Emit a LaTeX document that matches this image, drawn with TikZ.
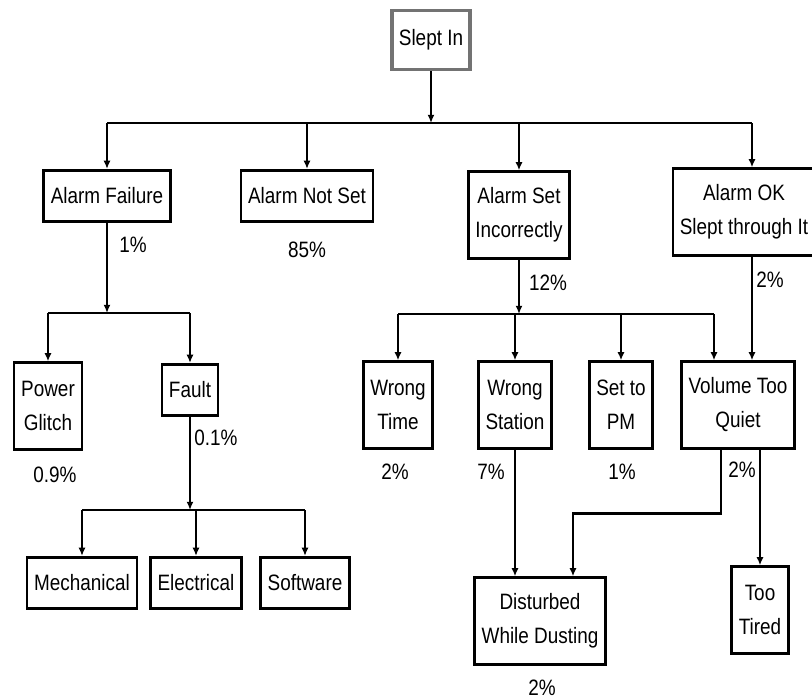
\documentclass[tikz,border=0pt]{standalone}
\usepackage{fontspec}
\setmainfont{Liberation Sans}[FakeStretch=0.85]
\usetikzlibrary{arrows.meta, positioning, calc}

\begin{document}
\begin{tikzpicture}[
    x=0.03cm, y=-0.03cm,
    font=\fontsize{19}{29}\selectfont,
    box/.style={rectangle, draw, line width=2.2pt, align=center, inner xsep=6pt, inner ysep=3pt, minimum height=44pt},
    tall/.style={box, minimum height=74pt},
    root/.style={box, draw=black!55, line width=3pt, minimum height=50pt},
    pct/.style={inner sep=1pt},
    link/.style={line width=2.4pt},
    arrow/.style={link, -{Latex[length=7pt, width=6pt]}}
]

\useasboundingbox (0,0) rectangle (812,700);
\clip (0,0) rectangle (812,700);

% Causes
\node[root] (slept) at (431,40) {Slept In};
\node[box] (af) at (107,196) {Alarm Failure};
\node[box] (ans) at (307,196) {Alarm Not Set};
\node[tall] (asi) at (519,215) {Alarm Set\\Incorrectly};
\node[tall] (aok) at (744,212) {Alarm OK\\Slept through It};

\node[tall] (pg) at (48,406) {Power\\Glitch};
\node[box] (fault) at (190,390) {Fault};
\node[box] (mech) at (82,583) {Mechanical};
\node[box] (elec) at (196,583) {Electrical};
\node[box] (soft) at (305,583) {Software};

\node[tall] (wt) at (398,405) {Wrong\\Time};
\node[tall] (ws) at (515,405) {Wrong\\Station};
\node[tall] (pm) at (621,405) {Set to\\PM};
\node[tall] (vq) at (738,405) {Volume Too\\Quiet};
\node[tall] (dwd) at (540,621) {Disturbed\\While Dusting};
\node[tall] (tired) at (760,610) {Too\\Tired};

% Bus lines
\coordinate (top) at (431,123);
\coordinate (afbus) at (107,313);
\coordinate (faultbus) at (190,510);
\coordinate (asibus) at (519,314);
\coordinate (aokin) at ($(aok.north |- top)+(8,0)$);

% Connectors
\draw[arrow] (slept) -- (top);
\draw[link] (af.north |- top) -- (aokin);
\foreach \n in {af, ans, asi}
    \draw[arrow] (\n.north |- top) -- (\n);
\draw[arrow] (aokin) -- (aokin |- aok.north);

\draw[arrow] (af) -- (afbus);
\draw[link] (pg.north |- afbus) -- (fault.north |- afbus);
\foreach \n in {pg, fault}
    \draw[arrow] (\n.north |- afbus) -- (\n);

\draw[arrow] (fault) -- (faultbus);
\draw[link] (mech.north |- faultbus) -- (soft.north |- faultbus);
\foreach \n in {mech, elec, soft}
    \draw[arrow] (\n.north |- faultbus) -- (\n);

\draw[arrow] (asi) -- (asibus);
\draw[link] (wt.north |- asibus) -- ($(vq.north |- asibus)+(-24,0)$);
\foreach \n in {wt, ws, pm}
    \draw[arrow] (\n.north |- asibus) -- (\n);
\draw[arrow] ($(vq.north |- asibus)+(-24,0)$) -- ($(vq.north)+(-24,0)$);
\draw[arrow] (aokin |- aok.south) -- (aokin |- vq.north);

\draw[arrow] (ws.south) -- (ws.south |- dwd.north);
\draw[arrow] ($(vq.south)+(-17,0)$) -- ++(0,64) -| ($(dwd.north)+(33,0)$);
\draw[arrow] (tired.north |- vq.south) -- (tired);

% Percentages
\node[pct] (p-af) at (133,245) {1\%};
\node[pct] (p-ans) at (307,250) {85\%};
\node[pct] (p-asi) at (548,283) {12\%};
\node[pct] (p-aok) at (770,280) {2\%};
\node[pct] (p-pg) at (55,475) {0.9\%};
\node[pct] (p-fault) at (216,438) {0.1\%};
\node[pct] (p-wt) at (395,472) {2\%};
\node[pct] (p-ws) at (491,472) {7\%};
\node[pct] (p-pm) at (622,472) {1\%};
\node[pct] (p-vq) at (742,470) {2\%};
\node[pct] (p-dwd) at (542,688) {2\%};

\end{tikzpicture}
\end{document}
